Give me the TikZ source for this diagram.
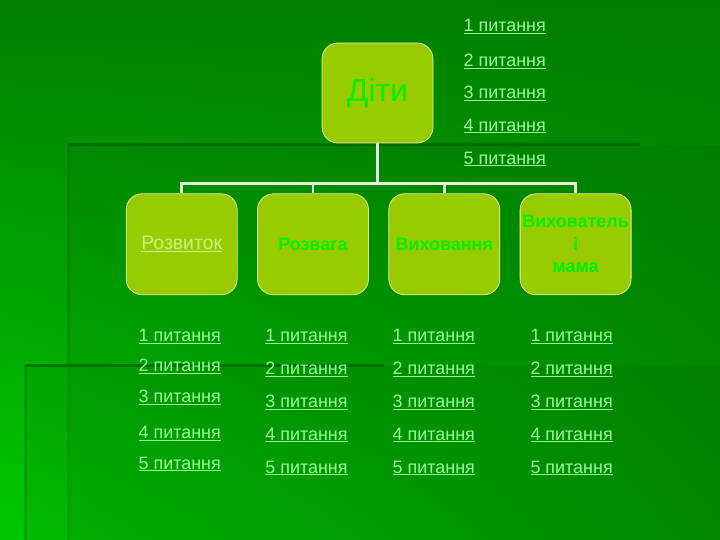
\documentclass[tikz,border=0pt]{standalone}
\usepackage{fontspec}
\setmainfont{Liberation Sans}
\usepackage{xcolor}
\usepackage{tikz}
\usetikzlibrary{positioning,shadings}
\definecolor{leaf}{HTML}{99CC00}
\definecolor{leafrim}{HTML}{E2F0A8}
\definecolor{lime}{HTML}{00F000}
\definecolor{mint}{HTML}{99FF99}
\definecolor{pale}{HTML}{CCF080}
\definecolor{wire}{HTML}{E2F2DA}
\definecolor{bgtop}{HTML}{008000}
\definecolor{bgleft}{HTML}{00C800}
\definecolor{bgright}{HTML}{009800}
\definecolor{seam}{HTML}{005A00}
\tikzset{
  topicbox/.style={
    rectangle, rounded corners=16bp, draw=leafrim, fill=leaf, line width=0.8bp,
    minimum width=111bp, minimum height=#1,
    font=\fontsize{18}{22.5}\selectfont\bfseries, text=lime, align=center,
    inner sep=2bp
  },
  topicbox/.default=101bp,
  qlink/.style={
    rectangle, inner sep=0pt, text height=13bp, text depth=4bp,
    text=mint, font=\fontsize{18}{21}\selectfont
  },
  tieline/.style={draw=wire, line width=2.5bp},
  seamline/.style={draw=seam, line width=3bp, opacity=#1},
  seamline/.default=0.6,
}

\begin{document}
\begin{tikzpicture}[x=1bp, y=1bp]
% Background
\useasboundingbox (0,0) rectangle (720,-540);
\shade[upper left=bgtop, upper right=bgtop, lower left=bgleft, lower right=bgright] (0,0) rectangle (720,-540);
\fill[black, opacity=0.05] (68,-145) rectangle (720,-540);
\fill[black, opacity=0.05] (25,-365) rectangle (720,-540);
\draw[seamline] (68,-145) -- (640,-145);
\draw[seamline=0.3] (68,-145) -- (68,-365);
\draw[seamline=0.15] (68,-365) -- (68,-540);
\draw[seamline] (25,-365) -- (384,-365);
\draw[seamline=0.25] (25,-365) -- (25,-540);

% Root
\node[topicbox=100bp, font=\fontsize{32}{38}\selectfont, text=lime] (kids) at (377.5,-93) {Діти};
\node[qlink, right=30bp of kids, yshift=-1.5bp] (kq3) {\underline{3 питання}};
\node[qlink, above=15.3bp of kq3] (kq2) {\underline{2 питання}};
\node[qlink, above=17.4bp of kq2] (kq1) {\underline{1 питання}};
\node[qlink, below=14.7bp of kq3] (kq4) {\underline{4 питання}};
\node[qlink, below=15.6bp of kq4] (kq5) {\underline{5 питання}};

% Branches
\node[topicbox, below=50bp of kids, xshift=-64.5bp] (fun) {Розвага};
\node[topicbox, left=19.5bp of fun, font=\fontsize{19.5}{22.5}\selectfont, text=pale] (dev) {\underline{Розвиток}};
\node[topicbox, right=19.5bp of fun] (edu) {Виховання};
\node[topicbox, right=19.5bp of edu] (tutor) {Вихователь\\і\\мама};
\draw[tieline] (kids.south) -- ++(0,-40) -| (dev.north);
\draw[tieline] (kids.south) -- ++(0,-40) -| (fun.north);
\draw[tieline] (kids.south) -- ++(0,-40) -| (edu.north);
\draw[tieline] (kids.south) -- ++(0,-40) -| (tutor.north);

% Questions under Розвиток
\node[qlink, below=33bp of dev, xshift=-2bp] (dq1) {\underline{1 питання}};
\node[qlink, below=13bp of dq1] (dq2) {\underline{2 питання}};
\node[qlink, below=13bp of dq2] (dq3) {\underline{3 питання}};
\node[qlink, below=19bp of dq3] (dq4) {\underline{4 питання}};
\node[qlink, below=13bp of dq4] (dq5) {\underline{5 питання}};

% Questions under Розвага
\node[qlink, below=33bp of fun, xshift=-6.5bp] (fq1) {\underline{1 питання}};
\node[qlink, below=15.5bp of fq1] (fq2) {\underline{2 питання}};
\node[qlink, below=15.5bp of fq2] (fq3) {\underline{3 питання}};
\node[qlink, below=15.5bp of fq3] (fq4) {\underline{4 питання}};
\node[qlink, below=15.5bp of fq4] (fq5) {\underline{5 питання}};

% Questions under Виховання
\node[qlink, below=33bp of edu, xshift=-10.5bp] (eq1) {\underline{1 питання}};
\node[qlink, below=15.5bp of eq1] (eq2) {\underline{2 питання}};
\node[qlink, below=15.5bp of eq2] (eq3) {\underline{3 питання}};
\node[qlink, below=15.5bp of eq3] (eq4) {\underline{4 питання}};
\node[qlink, below=15.5bp of eq4] (eq5) {\underline{5 питання}};

% Questions under Вихователь і мама
\node[qlink, below=33bp of tutor, xshift=-4bp] (tq1) {\underline{1 питання}};
\node[qlink, below=15.5bp of tq1] (tq2) {\underline{2 питання}};
\node[qlink, below=15.5bp of tq2] (tq3) {\underline{3 питання}};
\node[qlink, below=15.5bp of tq3] (tq4) {\underline{4 питання}};
\node[qlink, below=15.5bp of tq4] (tq5) {\underline{5 питання}};
\end{tikzpicture}
\end{document}
